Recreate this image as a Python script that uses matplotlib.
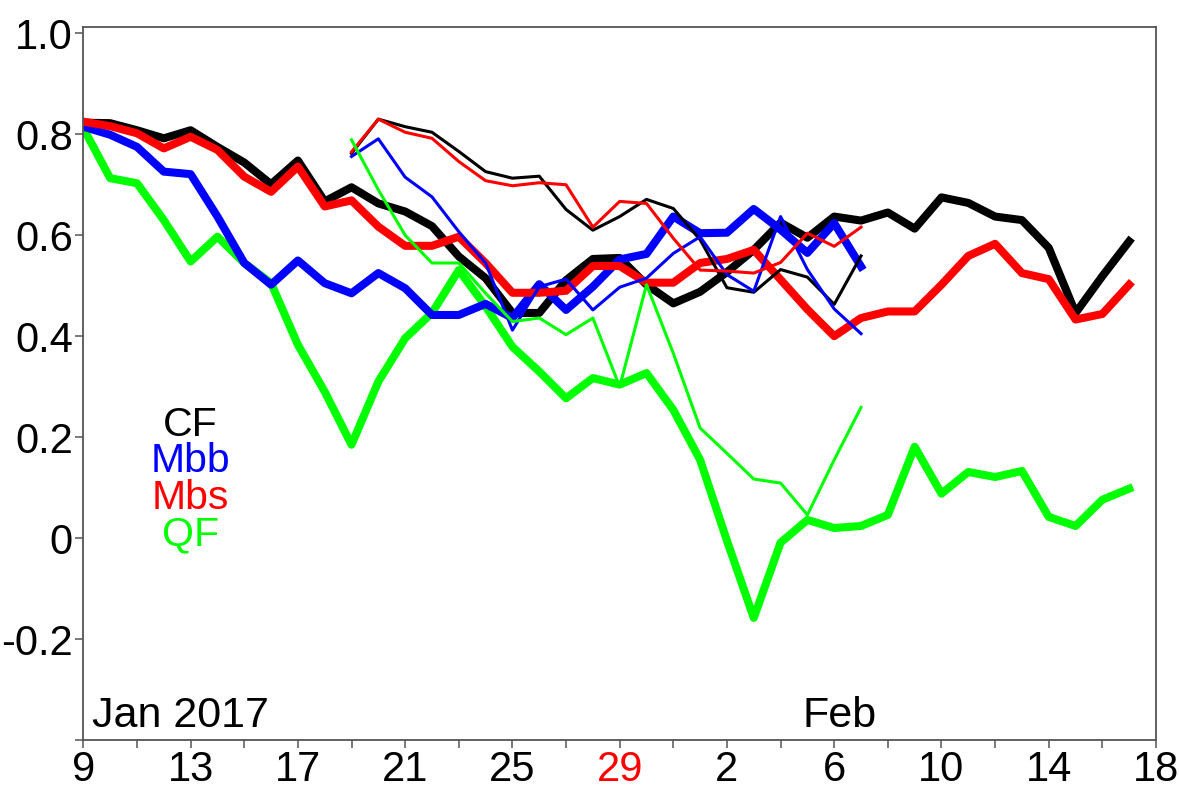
import numpy as np
import matplotlib
matplotlib.use("Agg")
import matplotlib.pyplot as plt

plt.rcParams['font.family'] = ['Liberation Sans', 'DejaVu Sans']

# days counted from Jan 9 2017
days_long = np.arange(0, 40)     # Jan 9 .. Feb 17
days_short = np.arange(10, 30)   # Jan 19 .. Feb 7

cf_long = [0.823, 0.822, 0.808, 0.792, 0.808, 0.775, 0.744, 0.701, 0.748, 0.667,
           0.695, 0.663, 0.647, 0.618, 0.558, 0.515, 0.446, 0.446, 0.511, 0.553,
           0.555, 0.502, 0.465, 0.488, 0.527, 0.571, 0.625, 0.595, 0.637, 0.629,
           0.645, 0.613, 0.675, 0.664, 0.637, 0.630, 0.575, 0.446, 0.519, 0.588]
mbb_long = [0.815, 0.799, 0.775, 0.726, 0.721, 0.637, 0.545, 0.502, 0.550, 0.505,
            0.485, 0.525, 0.495, 0.442, 0.442, 0.464, 0.436, 0.503, 0.452, 0.498,
            0.552, 0.563, 0.637, 0.604, 0.605, 0.652, 0.611, 0.565, 0.624, 0.538]
mbs_long = [0.825, 0.816, 0.802, 0.772, 0.795, 0.769, 0.716, 0.686, 0.736, 0.657,
            0.669, 0.617, 0.579, 0.579, 0.597, 0.545, 0.486, 0.486, 0.490, 0.539,
            0.539, 0.506, 0.506, 0.545, 0.553, 0.571, 0.512, 0.453, 0.400, 0.436,
            0.449, 0.449, 0.502, 0.559, 0.583, 0.525, 0.513, 0.433, 0.444, 0.502]
qf_long = [0.812, 0.713, 0.703, 0.630, 0.548, 0.597, 0.545, 0.505, 0.383, 0.290,
           0.185, 0.310, 0.396, 0.446, 0.531, 0.459, 0.379, 0.330, 0.277, 0.317,
           0.304, 0.327, 0.254, 0.155, -0.005, -0.158, -0.009, 0.036, 0.020, 0.024,
           0.046, 0.181, 0.088, 0.131, 0.121, 0.133, 0.042, 0.024, 0.076, 0.098]

cf_short = [0.762, 0.830, 0.815, 0.804, 0.766, 0.726, 0.713, 0.717, 0.651, 0.610,
            0.637, 0.671, 0.653, 0.591, 0.496, 0.487, 0.532, 0.517, 0.463, 0.559]
mbb_short = [0.756, 0.791, 0.715, 0.676, 0.607, 0.545, 0.412, 0.498, 0.513, 0.452,
             0.497, 0.515, 0.564, 0.597, 0.522, 0.489, 0.637, 0.532, 0.454, 0.405]
mbs_short = [0.765, 0.830, 0.804, 0.792, 0.746, 0.708, 0.698, 0.704, 0.700, 0.616,
             0.667, 0.663, 0.594, 0.531, 0.529, 0.525, 0.546, 0.604, 0.578, 0.616]
qf_short = [0.789, 0.690, 0.600, 0.545, 0.545, 0.485, 0.429, 0.436, 0.403, 0.436,
            0.300, 0.502, 0.366, 0.218, 0.168, 0.117, 0.109, 0.046, 0.155, 0.259]

x_tick_labels = ["9", "13", "17", "21", "25", "29", "2", "6", "10", "14", "18"]
y_tick_labels = ["-0.4", "-0.2", "0", "0.2", "0.4", "0.6", "0.8", "1.0"]

series_names = ["CF", "Mbb", "Mbs", "QF"]
series_colors = ["black", "#0000ff", "#ff0000", "#00ff00"]

fig = plt.figure(figsize=(11.79, 7.85), dpi=100)
ax = fig.add_axes([0.0707, 0.0573, 0.9098, 0.9083])

thick = 5.8
thin = 2.2
ax.plot(days_long, cf_long, color="black", lw=thick, zorder=2)
ax.plot(days_long, qf_long, color="#00ff00", lw=thick, zorder=2)
ax.plot(days_long[:len(mbb_long)], mbb_long, color="#0000ff", lw=thick, zorder=2)
ax.plot(days_long, mbs_long, color="#ff0000", lw=thick, zorder=2)

ax.plot(days_short, cf_short, color="black", lw=thin, zorder=3)
ax.plot(days_short, mbb_short, color="#0000ff", lw=thin, zorder=3)
ax.plot(days_short, mbs_short, color="#ff0000", lw=thin, zorder=3)
ax.plot(days_short, qf_short, color="#00ff00", lw=thin, zorder=3)

ax.set_xlim(0, 40)
ax.set_ylim(-0.4, 1.0125)

ax.set_xticks(np.arange(0, 41, 4))
ax.set_xticklabels(x_tick_labels)
ax.set_xticks(np.arange(0, 41, 2), minor=True)
ax.get_xticklabels()[5].set_color("#ff0000")

yt = [-0.4, -0.2, 0, 0.2, 0.4, 0.6, 0.8, 1.0]
ax.set_yticks(yt)
ax.set_yticklabels([""] + y_tick_labels[1:])

ax.tick_params(axis="both", which="both", direction="out", length=6,
               width=1.1, color="#555555", labelsize=30)
ax.tick_params(axis="x", pad=1)
ax.tick_params(axis="y", pad=1.5)
for s in ax.spines.values():
    s.set_color("#555555")
    s.set_linewidth(1.3)

# series names
for i, (name, c) in enumerate(zip(series_names, series_colors)):
    ax.text(4.0, 0.224 - i * 0.072, name, color=c, fontsize=29.5,
            ha="center", va="center")

ax.text(0.32, -0.374, "Jan 2017", fontsize=31, ha="left", va="baseline")
ax.text(28.2, -0.374, "Feb", fontsize=31, ha="center", va="baseline")

fig.savefig("out.png", dpi=100)
